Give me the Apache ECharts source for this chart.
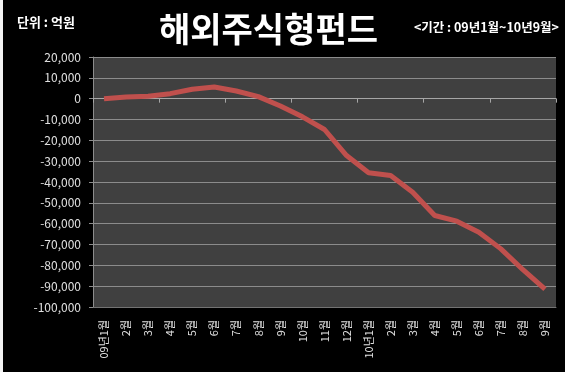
<!DOCTYPE html>
<html><head><meta charset="utf-8">
<script src="https://cdn.jsdelivr.net/npm/echarts@6/dist/echarts.min.js"></script>
<style>html,body{margin:0;padding:0;background:#fff;}#c{position:absolute;left:0;top:0;width:565px;height:372px;}</style>
</head><body><div id="c"></div>
<script>
const categories = ['09년1월','2월','3월','4월','5월','6월','7월','8월','9월','10월','11월','12월','10년1월','2월','3월','4월','5월','6월','7월','8월','9월'];
const values = [0, 800, 1200, 2400, 4500, 5600, 3700, 1000, -3500, -8700, -14800, -27300, -35600, -36900, -44900, -56100, -58800, -64100, -72100, -82100, -91400];
const yMin = -100000, yMax = 20000, yStep = 10000;
const titleText = '해외주식형펀드';
const unitText = '단위 : 억원';
const periodText = '<기간 : 09년1월~10년9월>';

const chart = echarts.init(document.getElementById('c'), null, {renderer:'canvas'});
const font = "'Noto Sans CJK KR', sans-serif";
chart.setOption({
  backgroundColor: '#000',
  animation: false,
  graphic: [
    {type:'rect', left:0, top:0, shape:{width:3, height:372}, style:{fill:'#f4f4f4'}},
    {type:'text', left:159, top:12, style:{text:titleText, fill:'#fff', font:"bold 34px " + font}},
    {type:'text', left:17, top:16, style:{text:unitText, fill:'#fff', font:"bold 13px " + font}},
    {type:'text', right:6, top:21, style:{text:periodText, fill:'#fff', font:"bold 12.5px " + font}}
  ],
  grid: {left:93, right:9, top:57, bottom:65, show:true, backgroundColor:'#404040', borderWidth:0},
  xAxis: [
    {type:'category', data:categories, boundaryGap:true,
     axisLine:{onZero:true, lineStyle:{color:'#a6a6a6', width:1}},
     axisTick:{show:true, inside:false, length:4, lineStyle:{color:'#a6a6a6'}},
     axisLabel:{show:false}, splitLine:{show:false}},
    {type:'category', data:categories, boundaryGap:true, position:'bottom',
     axisLine:{show:true, onZero:false, lineStyle:{color:'#737373'}},
     axisTick:{show:false},
     axisLabel:{show:true, rotate:90, margin:13, color:'#e0e0e0', fontSize:11, fontFamily:font, interval:0}}
  ],
  yAxis: {type:'value', min:yMin, max:yMax, interval:yStep,
    axisLine:{show:true, lineStyle:{color:'#8c8c8c'}},
    axisTick:{show:true, length:4, lineStyle:{color:'#8c8c8c'}},
    axisLabel:{color:'#e0e0e0', fontSize:12, fontFamily:font, margin:12,
      formatter: v => v.toLocaleString('en-US')},
    splitLine:{show:true, lineStyle:{color:'#8c8c8c', width:1}}
  },
  series: [{type:'line', data:values, xAxisIndex:0, showSymbol:false, smooth:false,
    lineStyle:{color:'#c0504d', width:5}, itemStyle:{color:'#c0504d'}}]
});
</script></body></html>
